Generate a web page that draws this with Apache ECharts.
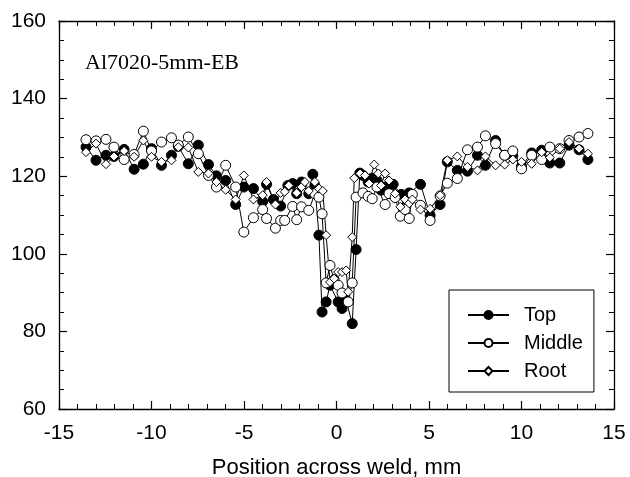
<!DOCTYPE html>
<html>
<head>
<meta charset="utf-8">
<script src="https://cdn.jsdelivr.net/npm/echarts@6/dist/echarts.min.js"></script>
<style>
  html, body { margin: 0; padding: 0; background: #fff; }
  #chart { width: 630px; height: 477px; }
</style>
</head>
<body>
<div id="chart"></div>
<script>
// positions (mm) and hardness values
var topX = [-13.54, -13.0, -12.46, -12.03, -11.48, -10.94, -10.44, -10.0, -9.46, -8.92, -8.55, -8.01, -7.47, -6.92, -6.49, -5.99, -5.45, -5.01, -4.49, -3.99, -3.78, -3.41, -3.02, -2.63, -2.37, -2.15, -1.89, -1.5, -1.28, -1.17, -0.95, -0.78, -0.56, -0.35, 0.09, 0.3, 0.52, 0.85, 1.06, 1.26, 1.43, 1.71, 1.93, 2.19, 2.41, 2.63, 3.06, 3.49, 3.82, 3.93, 4.54, 5.06, 5.6, 5.99, 6.53, 7.08, 7.62, 8.05, 8.6, 9.09, 9.53, 10.0, 10.55, 11.09, 11.53, 12.07, 12.57, 13.11, 13.59];
var topY = [127.5, 124.1, 125.4, 125.1, 126.9, 121.8, 123.1, 127.1, 122.8, 125.4, 127.7, 123.2, 128.0, 123.0, 120.1, 118.9, 112.7, 117.2, 116.8, 113.5, 117.9, 114.0, 112.3, 117.6, 118.1, 115.5, 118.5, 115.5, 120.5, 117.6, 104.8, 85.0, 87.6, 91.9, 87.6, 85.9, 88.0, 82.0, 101.1, 120.8, 120.2, 118.5, 119.5, 118.9, 116.4, 117.2, 117.9, 115.3, 113.8, 115.7, 117.9, 109.9, 112.7, 123.7, 121.5, 121.3, 125.4, 122.8, 129.2, 125.4, 125.2, 122.5, 126.0, 126.7, 123.4, 123.4, 128.0, 126.8, 124.3];

var midX = [-13.54, -13.0, -12.46, -12.03, -11.48, -10.94, -10.44, -10.0, -9.46, -8.92, -8.55, -8.01, -7.47, -6.92, -6.49, -5.99, -5.45, -5.01, -4.49, -3.99, -3.78, -3.3, -3.02, -2.8, -2.37, -2.15, -1.89, -1.5, -1.17, -0.95, -0.78, -0.56, -0.35, -0.13, 0.09, 0.3, 0.63, 0.85, 1.06, 1.43, 1.71, 1.93, 2.19, 2.63, 2.84, 3.17, 3.45, 3.71, 3.93, 4.1, 4.54, 5.06, 5.6, 5.99, 6.53, 7.08, 7.62, 8.05, 8.6, 9.09, 9.53, 10.0, 10.55, 11.09, 11.53, 12.07, 12.57, 13.11, 13.59];
var midY = [129.4, 129.1, 129.5, 127.5, 124.3, 125.6, 131.6, 126.5, 128.8, 129.9, 128.0, 130.1, 125.8, 120.2, 117.2, 122.8, 117.2, 105.6, 109.3, 111.4, 109.1, 106.6, 108.6, 108.6, 112.2, 108.8, 112.1, 111.2, 115.5, 114.6, 110.3, 92.5, 97.0, 93.3, 91.9, 89.9, 87.6, 92.5, 114.6, 115.7, 114.8, 114.2, 117.2, 112.7, 115.5, 114.5, 109.7, 111.4, 109.1, 115.3, 112.5, 108.6, 114.9, 118.2, 119.4, 126.8, 127.5, 130.4, 128.4, 125.4, 126.5, 121.9, 125.4, 124.3, 127.5, 127.1, 129.2, 130.1, 131.0];

var rootX = [-13.54, -13.0, -12.46, -12.03, -11.48, -10.94, -10.44, -10.0, -9.46, -8.92, -8.55, -8.01, -7.47, -6.92, -6.49, -5.99, -5.45, -5.01, -4.49, -3.99, -3.78, -3.3, -3.02, -2.8, -2.58, -2.15, -1.89, -1.71, -1.5, -1.17, -0.95, -0.74, -0.56, -0.35, -0.13, 0.09, 0.3, 0.52, 0.63, 0.85, 0.96, 1.28, 1.54, 1.76, 2.04, 2.26, 2.41, 2.63, 2.84, 3.17, 3.45, 3.71, 3.93, 4.1, 4.54, 5.06, 5.6, 5.99, 6.53, 7.08, 7.62, 8.05, 8.6, 9.09, 9.53, 10.0, 10.55, 11.09, 11.53, 12.07, 12.57, 13.11, 13.59];
var rootY = [126.2, 128.4, 123.1, 125.1, 126.5, 125.0, 129.2, 125.0, 123.7, 124.1, 127.5, 127.4, 121.1, 120.7, 118.5, 116.5, 114.0, 120.2, 114.0, 115.1, 118.5, 112.7, 115.7, 116.0, 117.6, 115.7, 117.2, 118.5, 116.2, 118.5, 116.8, 116.2, 104.8, 92.7, 93.6, 95.3, 95.3, 95.7, 90.2, 104.3, 119.5, 120.7, 120.2, 118.1, 123.0, 120.7, 117.6, 120.7, 118.9, 115.5, 112.1, 114.0, 113.0, 114.0, 111.4, 111.6, 115.1, 124.1, 125.1, 122.4, 121.5, 125.1, 122.8, 123.0, 124.3, 123.7, 123.2, 126.2, 124.8, 127.1, 128.8, 127.1, 125.8];

var seriesNames = ['Top', 'Middle', 'Root'];

function pairs (xs, ys) {
  return xs.map(function (x, i) { return [x, ys[i]] })
}

var font = 'Liberation Sans, Arial, sans-serif'
var myChart = echarts.init(document.getElementById('chart'))

// frame line and inward ticks, used on all four sides
var frameLine = { onZero: false, lineStyle: { color: '#000', width: 1.3 } }
var majorTick = { inside: true, length: 8, lineStyle: { color: '#000', width: 1.2 } }
function minor (n) {
  return { show: true, splitNumber: n, length: 5, lineStyle: { color: '#000', width: 1 } }
}

myChart.setOption({
  animation: false,
  backgroundColor: '#fff',
  grid: { left: 59, right: 16, top: 21, bottom: 68, outerBoundsMode: 'none' },
  title: {
    text: 'Al7020-5mm-EB',
    left: 80,
    top: 47,
    textStyle: { fontFamily: 'Liberation Serif, Times New Roman, serif', fontWeight: 'normal', fontSize: 22, color: '#000' }
  },
  legend: {
    data: seriesNames,
    orient: 'vertical',
    left: 449,
    top: 290,
    padding: [15, 11, 11, 18],
    itemGap: 8,
    itemWidth: 41,
    itemHeight: 10,
    borderColor: '#000',
    borderWidth: 1,
    backgroundColor: '#fff',
    textStyle: { fontFamily: font, fontSize: 20, color: '#000', padding: [0, 0, 0, 10] }
  },
  xAxis: [
    {
      type: 'value', min: -15, max: 15, interval: 5,
      axisLine: frameLine, axisTick: majorTick, minorTick: minor(5), splitLine: { show: false },
      axisLabel: { fontFamily: font, fontSize: 21, color: '#000', margin: 14 },
      name: 'Position across weld, mm',
      nameLocation: 'middle',
      nameGap: 48,
      nameTextStyle: { fontFamily: font, fontSize: 22, color: '#000' }
    },
    {
      type: 'value', min: -15, max: 15, interval: 5, position: 'top',
      axisLine: frameLine, axisTick: majorTick, minorTick: minor(5), splitLine: { show: false },
      axisLabel: { show: false }
    }
  ],
  yAxis: [
    {
      type: 'value', min: 60, max: 160, interval: 20,
      axisLine: frameLine, axisTick: majorTick, minorTick: minor(4), splitLine: { show: false },
      axisLabel: { fontFamily: font, fontSize: 21, color: '#000', margin: 13 }
    },
    {
      type: 'value', min: 60, max: 160, interval: 20, position: 'right',
      axisLine: frameLine, axisTick: majorTick, minorTick: minor(4), splitLine: { show: false },
      axisLabel: { show: false }
    }
  ],
  series: [
    {
      name: 'Top',
      type: 'line',
      data: pairs(topX, topY),
      symbol: 'circle',
      symbolSize: 10,
      lineStyle: { color: '#000', width: 1 },
      itemStyle: { color: '#000', borderColor: '#000', borderWidth: 1 }
    },
    {
      name: 'Middle',
      type: 'line',
      data: pairs(midX, midY),
      symbol: 'circle',
      symbolSize: 10,
      lineStyle: { color: '#000', width: 1 },
      itemStyle: { color: '#fff', borderColor: '#000', borderWidth: 1 }
    },
    {
      name: 'Root',
      type: 'line',
      data: pairs(rootX, rootY),
      symbol: 'diamond',
      symbolSize: 9,
      lineStyle: { color: '#000', width: 1 },
      itemStyle: { color: '#fff', borderColor: '#000', borderWidth: 1 }
    }
  ]
})
</script>
</body>
</html>
